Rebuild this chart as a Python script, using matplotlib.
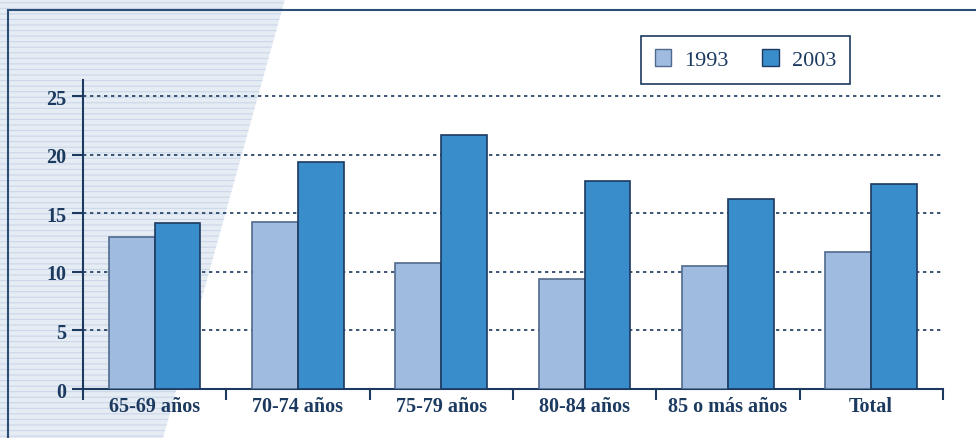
import matplotlib
matplotlib.use("Agg")
import matplotlib.pyplot as plt
from matplotlib.patches import Polygon, Patch
import numpy as np

categories = ["65-69 años", "70-74 años", "75-79 años", "80-84 años", "85 o más años", "Total"]
years = ["1993", "2003"]
vals_1993 = [13.0, 14.3, 10.8, 9.4, 10.5, 11.7]
vals_2003 = [14.2, 19.4, 21.7, 17.8, 16.2, 17.5]
yticks = [0, 5, 10, 15, 20, 25]

NAVY = "#1c3a60"
C1993 = "#9fbbe0"
C2003 = "#3a8dcb"

plt.rcParams["font.family"] = ["Liberation Serif", "DejaVu Serif"]
plt.rcParams["hatch.linewidth"] = 0.8

fig = plt.figure(figsize=(9.76, 4.39), dpi=100)

# background axes holding the textured wedge and the outer frame
bgax = fig.add_axes([0, 0, 1, 1], zorder=-1)
bgax.set_xlim(0, 1)
bgax.set_ylim(0, 1)
bgax.axis("off")
bgax.add_patch(Polygon([(0, 0), (0, 1), (0.292, 1), (0.167, 0)], closed=True,
                       facecolor="#e6ecf4", edgecolor="#cad7e8", hatch="---",
                       linewidth=0))
bgax.plot([0.0085, 0.0085], [0, 0.975], color="#2c4d75", lw=1.5)
bgax.plot([0.0085, 1.0], [0.975, 0.975], color="#2c4d75", lw=1.5)

ax = fig.add_axes([0.085, 0.1116, 0.881, 0.7039])
ax.patch.set_alpha(0)

x = np.arange(len(categories))
w = 0.32
ax.bar(x - w / 2, vals_1993, w, color=C1993, edgecolor="#4f6a8c", linewidth=1.2, zorder=3)
ax.bar(x + w / 2, vals_2003, w, color=C2003, edgecolor=NAVY, linewidth=1.2, zorder=3)

ax.set_xlim(-0.5, len(categories) - 0.5)
ax.set_ylim(0, 26.4)
ax.set_yticks(yticks)
ax.set_yticklabels([str(t) for t in yticks], fontweight="bold", fontsize=14.5, color=NAVY)
ax.yaxis.grid(True, linestyle=(0, (2, 2.2)), color=NAVY, linewidth=1.2, zorder=1)

ax.set_xticks(x)
ax.set_xticklabels(categories, fontweight="bold", fontsize=14.5, color=NAVY)
ax.set_xticks(np.arange(-0.5, len(categories), 1), minor=True)
ax.tick_params(axis="x", which="major", length=0, pad=5)
ax.tick_params(axis="x", which="minor", length=8, width=1.5, color=NAVY, direction="out")
ax.tick_params(axis="y", length=8, width=1.5, color=NAVY, pad=4)

for s in ["top", "right"]:
    ax.spines[s].set_visible(False)
for s in ["left", "bottom"]:
    ax.spines[s].set_color(NAVY)
    ax.spines[s].set_linewidth(1.5)

handles = [Patch(facecolor=C1993, edgecolor="#4f6a8c", label=years[0]),
           Patch(facecolor=C2003, edgecolor=NAVY, label=years[1])]
leg = fig.legend(handles=handles, loc="upper left", bbox_to_anchor=(0.657, 0.9157),
                 borderaxespad=0, ncol=2, frameon=True, fancybox=False, framealpha=1,
                 edgecolor=NAVY, fontsize=16, handlelength=0.75, handleheight=0.75,
                 columnspacing=1.5, handletextpad=0.6, borderpad=0.6,
                 labelcolor=NAVY)
leg.get_frame().set_linewidth(1.2)

fig.savefig("out.png", dpi=100)
